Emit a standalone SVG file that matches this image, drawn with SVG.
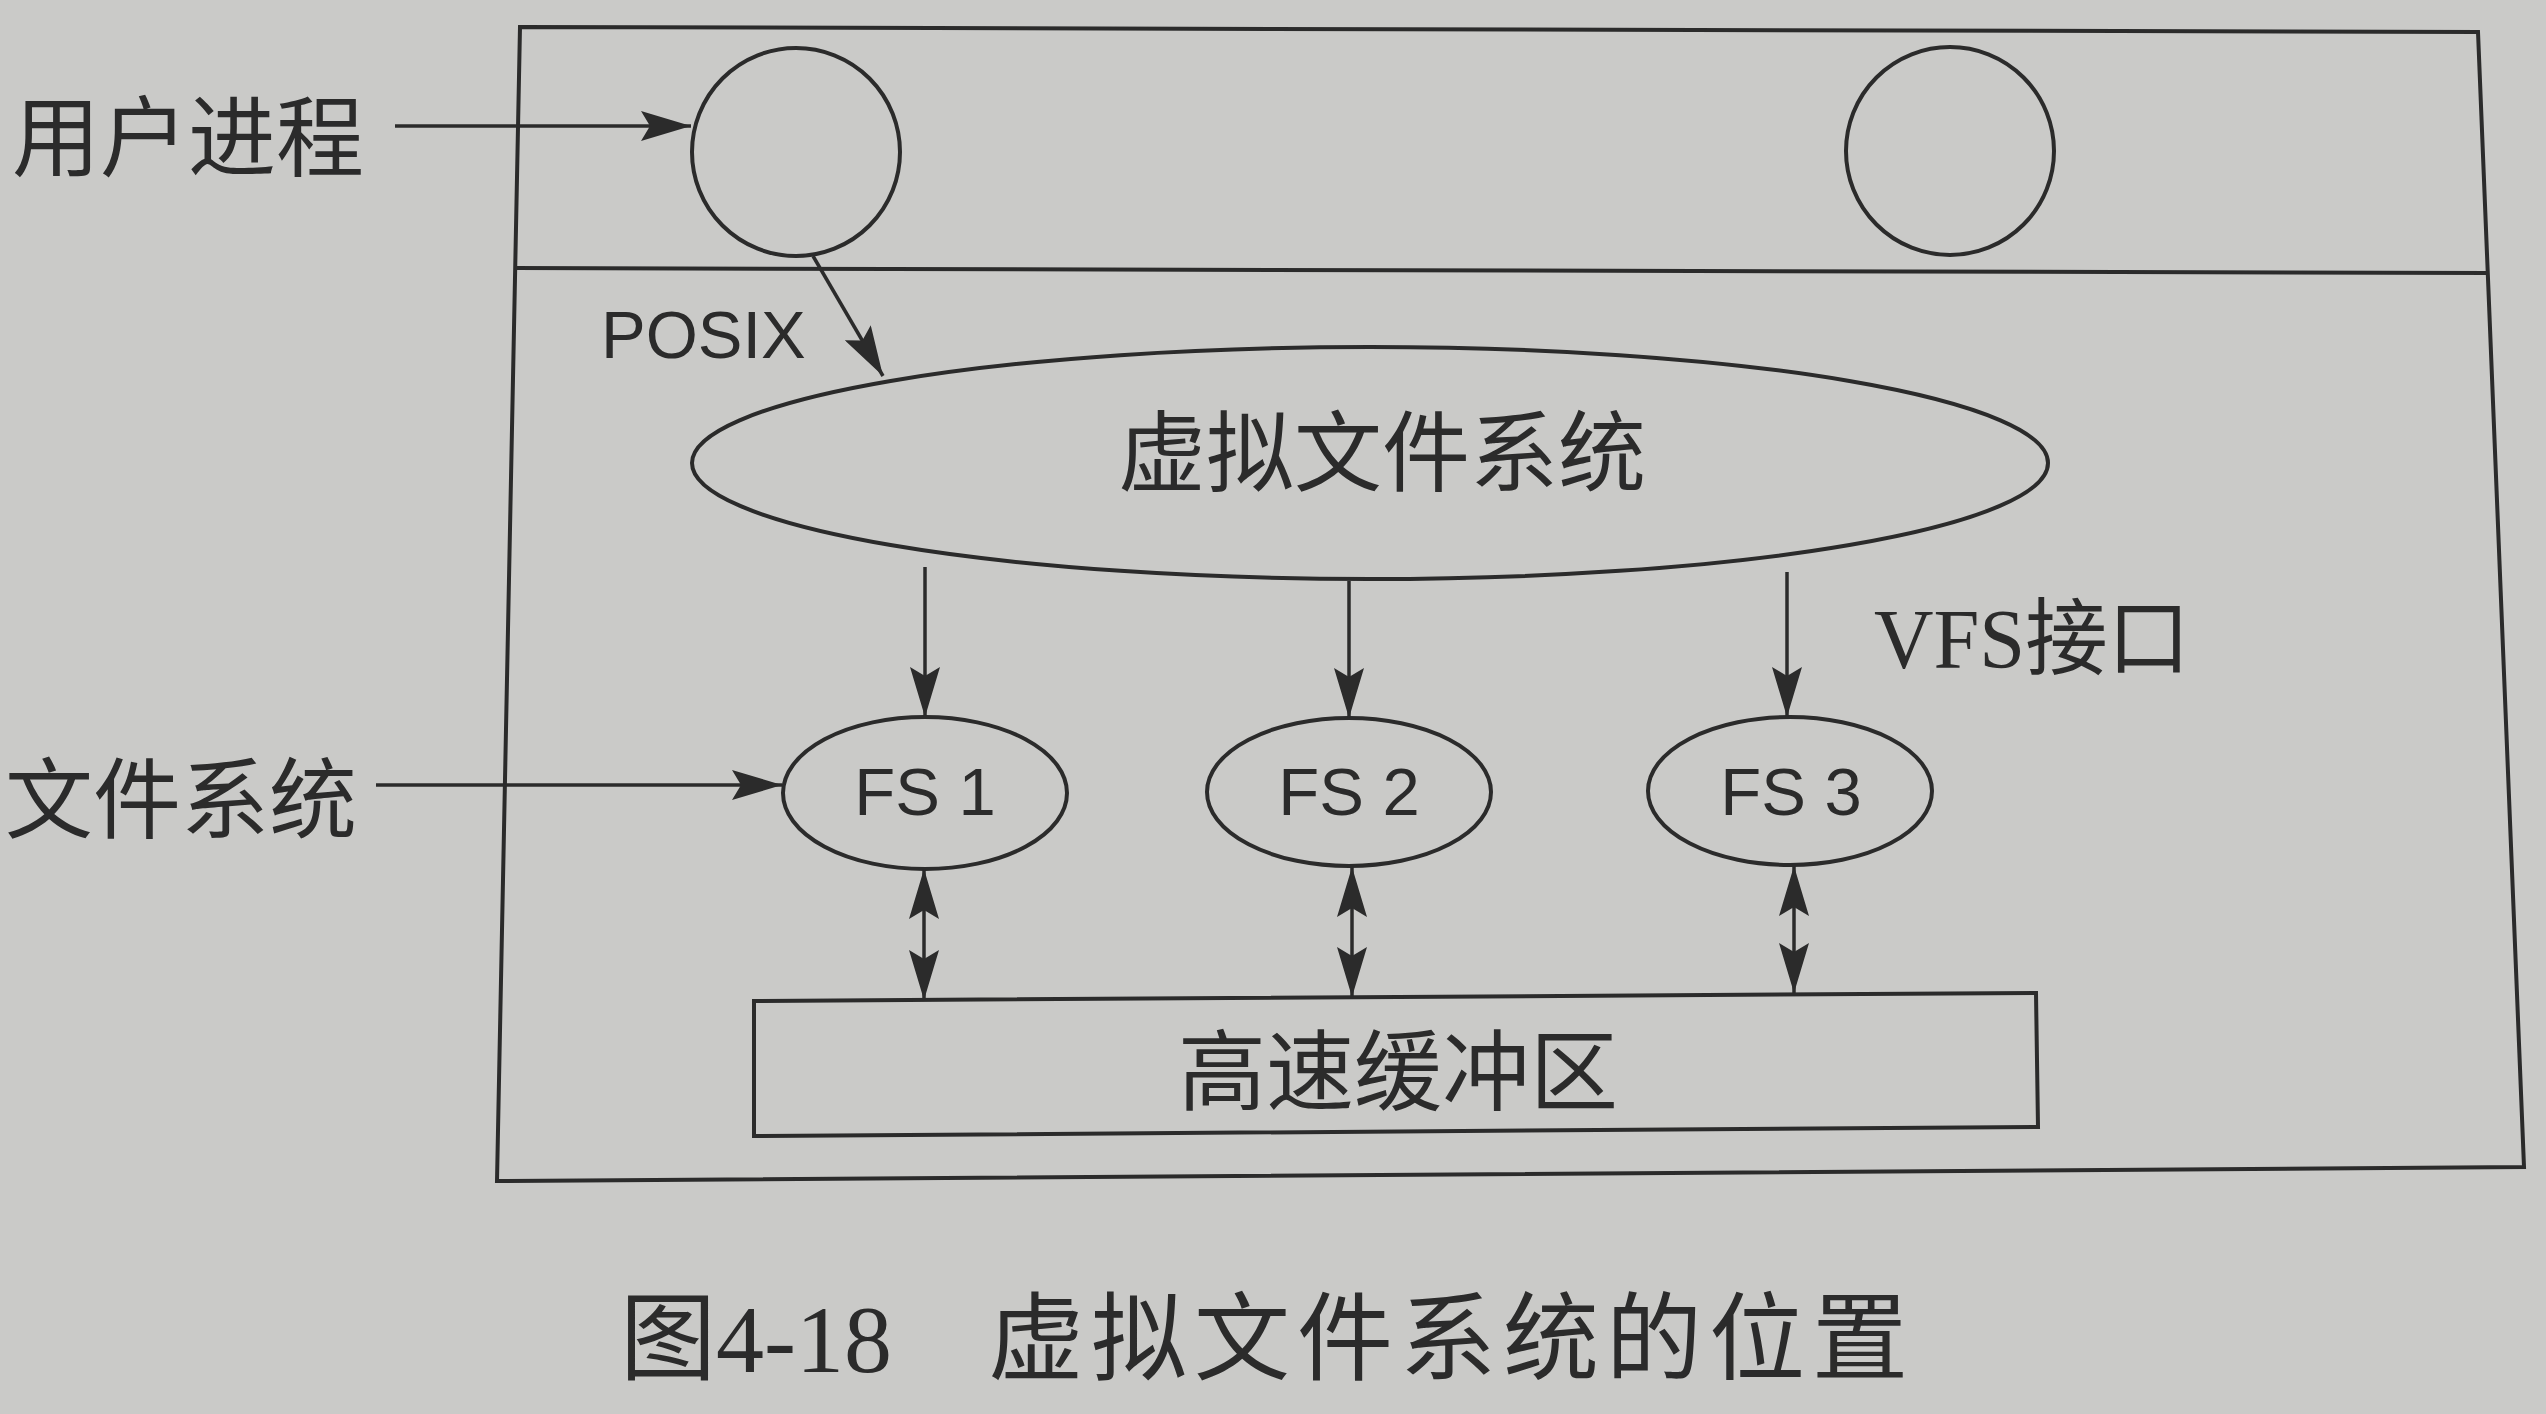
<svg xmlns="http://www.w3.org/2000/svg" width="2546" height="1414" viewBox="0 0 2546 1414">
<style>
.ln{fill:none;stroke:#2b2b2b;stroke-width:4;stroke-linejoin:miter}
.nd{fill:none;stroke:#2b2b2b;stroke-width:4}
.cn{fill:none;stroke:#2b2b2b;stroke-width:3.5}
.cj{font-family:"Noto Sans CJK SC",sans-serif;font-size:88px;fill:#2b2b2b}
.la{font-family:"Liberation Sans",Arial,sans-serif;font-size:67px;fill:#2b2b2b}
.mx{font-family:"Liberation Serif","Noto Sans CJK SC",serif;font-size:84px;fill:#2b2b2b}
</style>
<defs>
<marker id="ah" markerUnits="userSpaceOnUse" viewBox="0 0 50 30" refX="50" refY="15" markerWidth="50" markerHeight="30" orient="auto-start-reverse">
<path d="M0,0 L50,15 L0,30 L9,15 Z" fill="#2b2b2b"/>
</marker>
</defs>
<rect width="2546" height="1414" fill="#cacac8"/>

<g id="frame">
<polygon class="ln" points="520,27 2478,32 2524,1167 497,1181"/>
<line class="ln" x1="515" y1="268" x2="2488" y2="273"/>
</g>

<g id="proc1"><circle class="nd" cx="796" cy="152" r="104"/></g>
<g id="proc2"><circle class="nd" cx="1950" cy="151" r="104"/></g>

<g id="vfs">
<ellipse class="nd" cx="1370" cy="463" rx="678" ry="116"/>
<text class="cj" x="1118" y="484">虚拟文件系统</text>
</g>

<g id="fs1">
<ellipse class="nd" cx="925" cy="793" rx="142" ry="76"/>
<text class="la" x="925" y="815" text-anchor="middle">FS 1</text>
</g>
<g id="fs2">
<ellipse class="nd" cx="1349" cy="792" rx="142" ry="74"/>
<text class="la" x="1349" y="815" text-anchor="middle">FS 2</text>
</g>
<g id="fs3">
<ellipse class="nd" cx="1790" cy="791" rx="142" ry="74"/>
<text class="la" x="1791" y="815" text-anchor="middle">FS 3</text>
</g>

<g id="cache">
<polygon class="ln" points="754,1001 2036,993 2038,1127 754,1136"/>
<text class="cj" x="1178" y="1103">高速缓冲区</text>
</g>

<g id="labels">
<text class="cj" x="12" y="169">用户进程</text>
<text class="cj" x="5" y="831">文件系统</text>
<text class="la" x="601" y="358">POSIX</text>
<text class="mx" x="1874" y="668" textLength="316" lengthAdjust="spacingAndGlyphs">VFS接口</text>
<text font-family="Liberation Serif,'Noto Sans CJK SC',serif" font-size="96" fill="#2b2b2b" x="620" y="1372">图4-18</text>
<text font-family="'Noto Sans CJK SC',sans-serif" font-size="96" fill="#2b2b2b" x="988" y="1372" letter-spacing="7">虚拟文件系统的位置</text>
</g>

<g id="connectors">
<line class="cn" x1="395" y1="126" x2="691" y2="126" marker-end="url(#ah)"/>
<line class="cn" x1="376" y1="785" x2="782" y2="785" marker-end="url(#ah)"/>
<line class="cn" x1="813" y1="256" x2="883" y2="376" marker-end="url(#ah)"/>
<line class="cn" stroke-width="2.5" x1="925" y1="567" x2="925" y2="717" marker-end="url(#ah)"/>
<line class="cn" stroke-width="2.5" x1="1349" y1="581" x2="1349" y2="718" marker-end="url(#ah)"/>
<line class="cn" stroke-width="2.5" x1="1787" y1="572" x2="1787" y2="717" marker-end="url(#ah)"/>
<line class="cn" stroke-width="2.5" x1="924" y1="869" x2="924" y2="1000" marker-start="url(#ah)" marker-end="url(#ah)"/>
<line class="cn" stroke-width="2.5" x1="1352" y1="867" x2="1352" y2="997" marker-start="url(#ah)" marker-end="url(#ah)"/>
<line class="cn" stroke-width="2.5" x1="1794" y1="866" x2="1794" y2="993" marker-start="url(#ah)" marker-end="url(#ah)"/>
</g>
</svg>
